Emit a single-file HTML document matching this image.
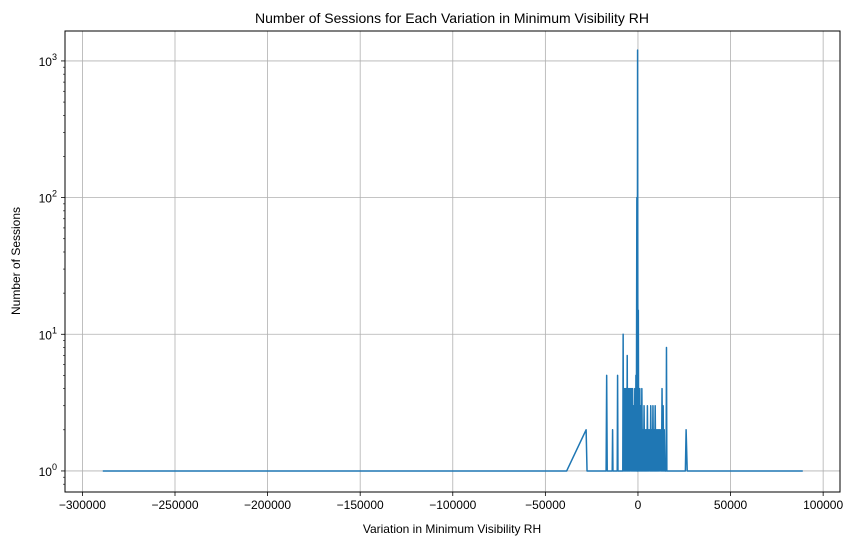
<!DOCTYPE html>
<html><head><meta charset="utf-8"><style>
body{margin:0;background:#fff;}
svg text{font-family:"Liberation Sans","DejaVu Sans",sans-serif;fill:#000;}
</style></head><body>
<svg id="chart" width="860" height="545" xmlns="http://www.w3.org/2000/svg">
<text x="452" y="23" font-size="14" text-anchor="middle">Number of Sessions for Each Variation in Minimum Visibility RH</text>
<g id="grid"></g>
<g id="series"></g>
<rect x="65" y="31" width="775" height="461" fill="none" stroke="#000" stroke-width="1"/>
<g id="axes"></g>
<text x="452" y="533" font-size="12" text-anchor="middle">Variation in Minimum Visibility RH</text>
<text x="20" y="261" font-size="12" text-anchor="middle" transform="rotate(-90 20 261)">Number of Sessions</text>
</svg>
<script>
const xTicks=[-300000,-250000,-200000,-150000,-100000,-50000,0,50000,100000];
const yTicks=[0,1,2,3];
const variation=[-289000,-38500,-28000,-27500,-17200,-16900,-16600,-13900,-13700,-13500,-11200,-11000,-10800,-8200,-8000,-7800,-7500,-7200,-6900,-6600,-6300,-6000,-5800,-5600,-5300,-5000,-4700,-4400,-4100,-3800,-3500,-3200,-2900,-2600,-2300,-2000,-1700,-1400,-1100,-900,-600,-400,-200,0,200,400,600,800,1000,1200,1500,1800,2100,2400,2700,3000,3300,3600,3900,4200,4500,4800,5100,5400,5700,6000,6300,6600,6900,7200,7500,7800,8100,8400,8700,9000,9300,9600,9900,10200,10500,10800,11100,11400,11700,12000,12400,12700,13000,13300,13600,13900,14200,14500,15200,15400,15600,25600,26000,26600,89000];
const sessions=[1,1,2,1,1,5,1,1,2,1,1,5,1,1,10,1,4,1,4,1,4,1,7,1,4,1,4,1,4,1,4,1,4,1,3,1,4,1,5,1,100,1,1200,1,15,1,4,1,4,1,3,1,4,1,2,1,3,1,2,1,2,1,3,1,2,1,2,1,3,1,2,1,3,1,2,1,3,1,2,1,2,1,2,1,2,1,2,1,4,1,3,1,2,1,1,8,1,1,2,1,1];
const NS="http://www.w3.org/2000/svg";
const L=65,R=840,T=31,B=492;
const xMin=-309400,xMax=109100,yMin=-0.154,yMax=3.219;
function sx(v){return L+(v-xMin)/(xMax-xMin)*(R-L);}
function sy(v){return B-(Math.log10(v)-yMin)/(yMax-yMin)*(B-T);}
function mk(tag,attrs,parent){const e=document.createElementNS(NS,tag);for(const k in attrs)e.setAttribute(k,attrs[k]);parent.appendChild(e);return e;}
const grid=document.getElementById('grid'),axes=document.getElementById('axes'),series=document.getElementById('series');
xTicks.forEach(t=>{const x=sx(t);
 const g=mk('line',{x1:x,x2:x,y1:T,y2:B,stroke:'#b0b0b0','stroke-width':0.8},grid);
 
 
 const tk=mk('line',{x1:x,x2:x,y1:B,y2:B+4,stroke:'#000','stroke-width':0.8},axes);
 
 
 const tx=mk('text',{x:x,y:B+17,'font-size':12,'text-anchor':'middle'},axes);
 tx.textContent=(t<0?'\u2212':'')+Math.abs(t);
 
 
});
yTicks.forEach(p=>{const y=sy(Math.pow(10,p));
 const g=mk('line',{x1:L,x2:R,y1:y,y2:y,stroke:'#b0b0b0','stroke-width':0.8},grid);
 
 
 const tk=mk('line',{x1:L-4,x2:L,y1:y,y2:y,stroke:'#000','stroke-width':0.8},axes);
 
 
 const tx=mk('text',{x:L-8,y:y+5,'font-size':12,'text-anchor':'end'},axes);
 tx.innerHTML='10<tspan dy="-6" font-size="9">'+p+'</tspan>';
 
 
});
for(let p=-1;p<=3;p++){for(let m=2;m<=9;m++){const v=m*Math.pow(10,p);const y=sy(v);if(y<T||y>B)continue;
 const tk=mk('line',{x1:L-2,x2:L,y1:y,y2:y,stroke:'#000','stroke-width':0.6},axes);
 
 }}
const pts=variation.map((v,i)=>sx(v).toFixed(2)+','+sy(sessions[i]).toFixed(2)).join(' ');
const line=mk('polyline',{points:pts,fill:'none',stroke:'#1f77b4','stroke-width':1.5,'stroke-linejoin':'round'},series);


</script>
</body></html>
